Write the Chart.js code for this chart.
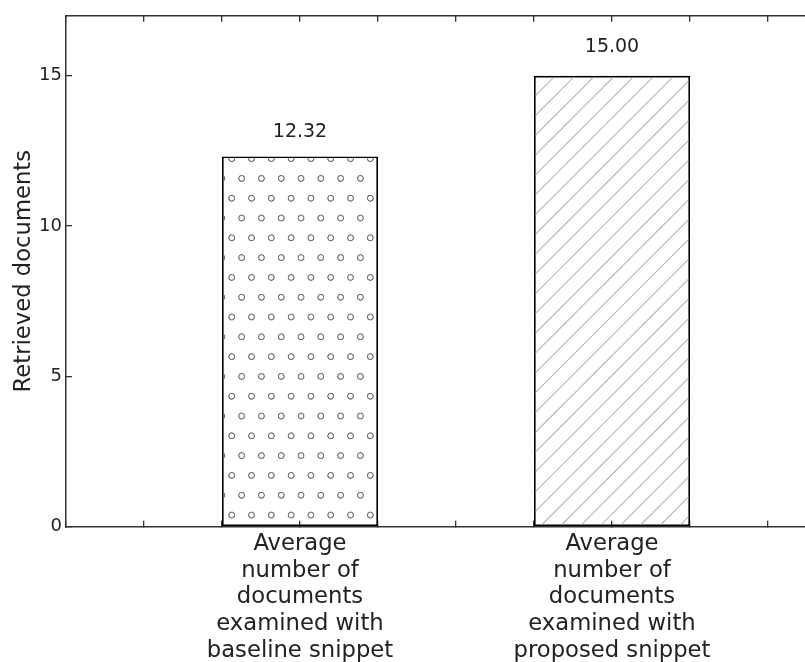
<!DOCTYPE html>
<html>
<head>
<meta charset="utf-8">
<script src="https://cdn.jsdelivr.net/npm/chart.js@4.4.1/dist/chart.umd.min.js"></script>
<style>
  html, body { margin: 0; padding: 0; background: #fff; overflow: hidden; }
  #wrap { width: 846px; height: 662px; }
</style>
</head>
<body>
<div id="wrap"><canvas id="chart" width="846" height="662"></canvas></div>
<script>
// data
let positions = [0, 1];
let values = [12.32, 15.00];
let categories = [
    ["Average", "number of", "documents", "examined with", "baseline snippet"],
    ["Average", "number of", "documents", "examined with", "proposed snippet"]
];
let yTicks = [0, 5, 10, 15];

let font = "DejaVu Sans";
let axisColor = "#333";
let hatchStep = 19.8;

// 'o' hatch: staggered rows of small circles
function circlePattern(ctx) {
    let c = document.createElement("canvas");
    c.width = 80; c.height = 80;
    let g = c.getContext("2d");
    g.strokeStyle = "#707070";
    g.lineWidth = 2.3;
    let pts = [[0, 0], [40, 0], [80, 0], [20, 40], [60, 40], [0, 80], [40, 80], [80, 80]];
    pts.forEach(p => {
        g.beginPath();
        g.arc(p[0], p[1], 5.8, 0, Math.PI * 2);
        g.stroke();
    });
    let pat = ctx.createPattern(c, "repeat");
    let k = hatchStep / 40;
    pat.setTransform(new DOMMatrix([k, 0, 0, k, 231.7, 515]));
    return pat;
}

// '/' hatch: thin diagonal lines
function linePattern(ctx) {
    let c = document.createElement("canvas");
    c.width = 40; c.height = 40;
    let g = c.getContext("2d");
    g.strokeStyle = "#b5b5b5";
    g.lineWidth = 2.2;
    [-40, 0, 40].forEach(s => {
        g.beginPath();
        g.moveTo(44 + s, -4);
        g.lineTo(-4 + s, 44);
        g.stroke();
    });
    let pat = ctx.createPattern(c, "repeat");
    let k = hatchStep / 40;
    pat.setTransform(new DOMMatrix([k, 0, 0, k, 631, 0]));
    return pat;
}

let ctx = document.getElementById("chart").getContext("2d");

let valueLabels = {
    id: "valueLabels",
    afterDatasetsDraw(chart) {
        let c = chart.ctx;
        let y = chart.scales.y;
        let meta = chart.getDatasetMeta(0);
        c.save();
        c.font = "19px '" + font + "'";
        c.fillStyle = "#222";
        c.textAlign = "center";
        c.textBaseline = "alphabetic";
        meta.data.forEach((bar, i) => {
            c.fillText(values[i].toFixed(2), bar.x, y.getPixelForValue(values[i] * 1.05) - 1);
        });
        c.restore();
    }
};

let gridOpts = {
    offset: false,
    drawOnChartArea: false,
    drawTicks: true,
    tickLength: -6,
    tickColor: axisColor,
    lineWidth: 1.3
};

// drop the label overhang padding chart.js adds, the box is fixed by afterFit
function noPad(s) {
    s.paddingTop = 0; s.paddingBottom = 0;
    s.paddingLeft = 0; s.paddingRight = 0;
}

new Chart(ctx, {
    type: "bar",
    data: {
        datasets: [{
            data: positions.map((x, i) => ({ x: x, y: values[i] })),
            backgroundColor: [circlePattern(ctx), linePattern(ctx)],
            borderColor: "#000",
            borderWidth: 1.6,
            borderSkipped: false,
            // bar width = 0.5 units = 2 x the 0.25 tick step
            categoryPercentage: 1,
            barPercentage: 2
        }]
    },
    options: {
        responsive: false,
        animation: false,
        layout: { padding: 0 },
        plugins: { legend: { display: false }, tooltip: { enabled: false } },
        scales: {
            x: {
                type: "linear",
                position: "bottom",
                min: -0.75,
                max: 1.75,
                offset: false,
                grid: gridOpts,
                border: { display: true, color: axisColor, width: 1.5 },
                ticks: {
                    stepSize: 0.25,
                    autoSkip: false,
                    maxRotation: 0,
                    padding: 10,
                    color: "#222",
                    font: { family: font, size: 22.7, lineHeight: "26.7px" },
                    callback: v => {
                        let i = positions.indexOf(v);
                        return i >= 0 ? categories[i] : "";
                    }
                },
                afterFit: s => { s.height = 135.3; noPad(s); }
            },
            x2: {
                type: "linear",
                position: "top",
                min: -0.75,
                max: 1.75,
                offset: false,
                grid: gridOpts,
                border: { display: true, color: axisColor, width: 1.5 },
                ticks: { stepSize: 0.25, autoSkip: false, display: false },
                afterFit: s => { s.height = 15.7; noPad(s); }
            },
            y: {
                type: "linear",
                position: "left",
                min: 0,
                max: 17,
                grid: gridOpts,
                border: { display: true, color: axisColor, width: 1.5 },
                afterBuildTicks: s => { s.ticks = yTicks.map(v => ({ value: v })); },
                ticks: {
                    padding: 10,
                    color: "#222",
                    font: { family: font, size: 18 }
                },
                title: {
                    display: true,
                    text: "Retrieved documents",
                    color: "#222",
                    padding: { top: 10, bottom: 0 },
                    font: { family: font, size: 22.7, lineHeight: 1.2 }
                },
                afterFit: s => { s.width = 66; noPad(s); }
            }
        }
    },
    plugins: [valueLabels]
});
</script>
</body>
</html>
